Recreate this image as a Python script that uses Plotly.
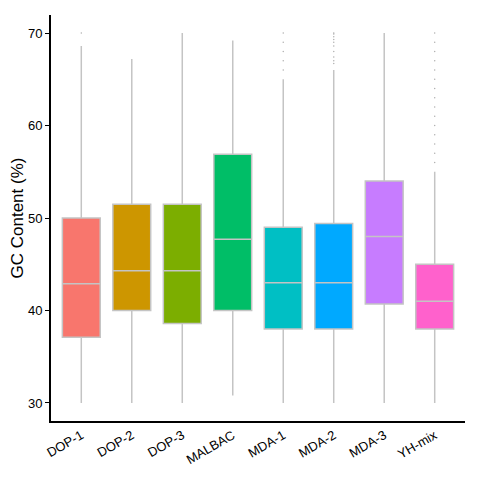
import plotly.graph_objects as go

groups = ["DOP-1", "DOP-2", "DOP-3", "MALBAC", "MDA-1", "MDA-2", "MDA-3", "YH-mix"]
q1 = [37.1, 40.0, 38.6, 40.0, 38.0, 38.0, 40.7, 38.0]
median = [42.9, 44.3, 44.3, 47.7, 43.0, 43.0, 48.0, 41.0]
q3 = [50.0, 51.5, 51.5, 56.9, 49.0, 49.4, 54.0, 45.0]
lower = [30.0, 30.0, 30.0, 30.8, 30.0, 30.0, 30.0, 30.0]
upper = [68.6, 67.2, 70.0, 69.2, 65.0, 66.0, 70.0, 55.0]
colors = ["#F8766D", "#CD9600", "#7CAE00", "#00BE67",
          "#00BFC4", "#00A9FF", "#C77CFF", "#FF61CC"]

# outlier points (group, value)
out_group = (["DOP-1"]
             + ["MDA-1"] * 5
             + ["MDA-2"] * 10
             + ["YH-mix"] * 15)
out_value = ([70.0]
             + [70.0, 69.0, 68.0, 67.0, 66.0]
             + [70.0, 69.9, 69.6, 69.3, 69.0, 68.6, 68.0, 67.4, 67.0, 66.7]
             + [70, 69, 68, 67, 66, 65, 64, 63, 62, 61, 60, 59, 58, 57, 56])

fig = go.Figure()

for i, g in enumerate(groups):
    fig.add_trace(go.Box(
        x=[g], q1=[q1[i]], median=[median[i]], q3=[q3[i]],
        lowerfence=[lower[i]], upperfence=[upper[i]],
        fillcolor=colors[i], line=dict(color="#c4c4c4", width=1.5),
        whiskerwidth=0, width=0.75, boxpoints=False, showlegend=False,
    ))

fig.add_trace(go.Scatter(
    x=out_group, y=out_value, mode="markers",
    marker=dict(size=1.5, color="#b0b0b0"), showlegend=False,
))

# page body has an 8px margin, so the figure is made a bit smaller
fig.update_layout(
    width=472, height=472,
    margin=dict(l=43, r=15, t=7, b=59),
    plot_bgcolor="white", paper_bgcolor="white",
    font=dict(family="Liberation Sans, Arial, sans-serif", color="black", size=13),
    xaxis=dict(
        type="category", categoryorder="array", categoryarray=groups,
        range=[-0.6, 7.6], showgrid=False, zeroline=False, automargin=False,
        showline=True, linecolor="black", linewidth=2,
        ticks="", tickangle=-30, tickfont=dict(size=13, color="black"),
    ),
    yaxis=dict(
        range=[28.05, 71.95], tickvals=[30, 40, 50, 60, 70],
        showgrid=False, zeroline=False, automargin=False,
        showline=True, linecolor="black", linewidth=2,
        ticks="outside", ticklen=4, tickwidth=1, tickcolor="black",
        tickfont=dict(size=13, color="black"),
        title=dict(text="GC Content (%)", font=dict(size=17, color="black"), standoff=0),
    ),
)

fig.write_html("out.html")
